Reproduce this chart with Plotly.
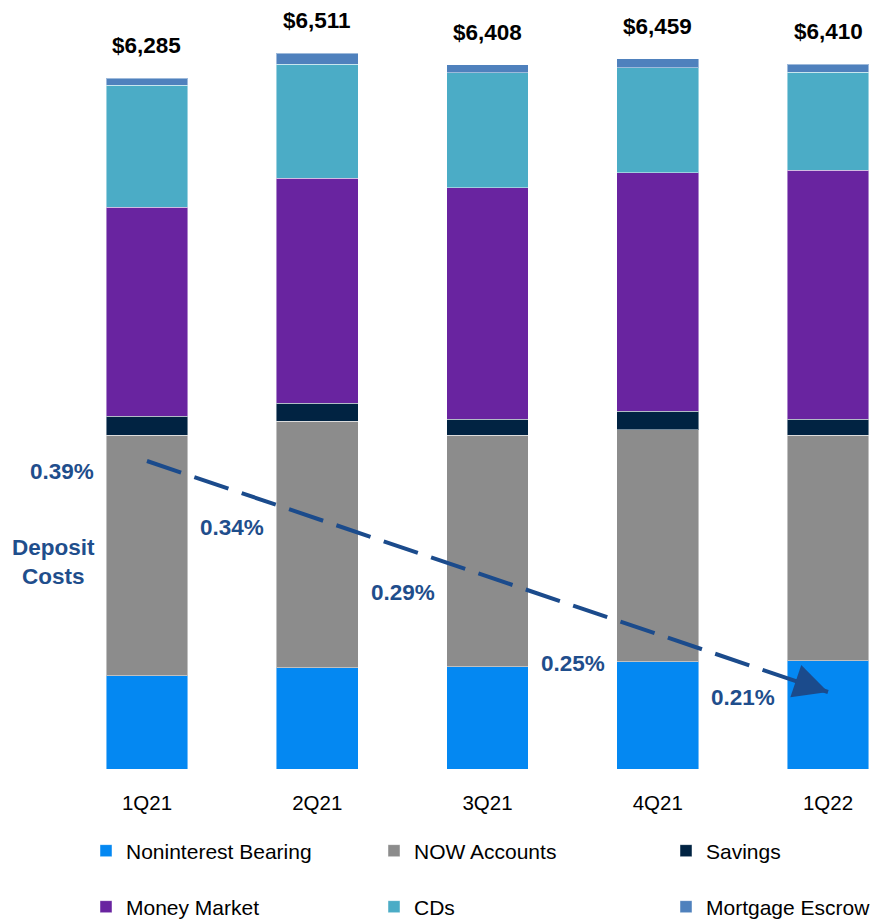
import plotly.graph_objects as go

quarters = ["1Q21", "2Q21", "3Q21", "4Q21", "1Q22"]

# deposits by type, $ millions
noninterest = [846, 919, 931, 976, 985]
now_accounts = [2191, 2244, 2104, 2112, 2052]
savings = [173, 164, 146, 164, 146]
money_market = [1901, 2047, 2104, 2173, 2265]
cds = [1110, 1037, 1050, 952, 889]
escrow = [64, 100, 73, 82, 73]
totals = [6285, 6511, 6408, 6459, 6410]

# cost of deposits, %
deposit_costs = [0.39, 0.34, 0.29, 0.25, 0.21]
cost_labels = ["0.39%", "0.34%", "0.29%", "0.25%", "0.21%"]

FONT = "Liberation Sans, Arial, sans-serif"
BLUE_TXT = "#1F4E8C"

# page body has an 8px margin, so the figure is drawn 8px smaller
W, H = 873, 915

series = [
    ("Noninterest Bearing", noninterest, "#0488F2"),
    ("NOW Accounts", now_accounts, "#8C8C8C"),
    ("Savings", savings, "#012342"),
    ("Money Market", money_market, "#6924A0"),
    ("CDs", cds, "#4BACC6"),
    ("Mortgage Escrow", escrow, "#4F81BD"),
]
# one legend per entry so the 3x2 grid sits where the original has it
legend_names = ["legend", "legend2", "legend3", "legend4", "legend5", "legend6"]
legend_cols = [78, 366, 658]
legend_rows = [0.0787, 0.0175]

fig = go.Figure()
for (name, vals, color), leg in zip(series, legend_names):
    fig.add_trace(go.Bar(
        x=quarters, y=vals, name=name, legend=leg,
        marker=dict(color=color, line=dict(color="rgba(255,255,255,0.45)", width=1)),
        width=0.48, hoverinfo="skip",
    ))

# dashed trend line for deposit costs, first to last quarter
fig.add_trace(go.Scatter(
    x=[quarters[0], quarters[-1]], y=[deposit_costs[0], deposit_costs[-1]],
    yaxis="y2", mode="lines", showlegend=False, hoverinfo="skip",
    line=dict(color="#1B4B8C", width=4, dash="36px,14px"),
))

# arrow head at the end of the line
step = (deposit_costs[0] - deposit_costs[-1]) / (len(quarters) - 1)
fig.add_annotation(
    x=4, y=deposit_costs[-1], xref="x", yref="y2",
    ax=3.8, ay=deposit_costs[-1] + step * 0.2, axref="x", ayref="y2",
    showarrow=True, arrowhead=2, arrowsize=1.7, arrowwidth=4,
    arrowcolor="#1B4B8C", text="",
)

# total labels above bars
for q, t in zip(quarters, totals):
    fig.add_annotation(
        x=q, y=t, xref="x", yref="y", text=f"${t:,}", showarrow=False,
        yanchor="bottom", yshift=18,
        font=dict(family=FONT, size=22.5, color="black", weight="bold"),
    )

# deposit cost labels
label_yshift = [-10, -2, -3, -23, -5]
for q, c, lab, ys in zip(quarters, deposit_costs, cost_labels, label_yshift):
    fig.add_annotation(
        x=q, y=c, xref="x", yref="y2", text=lab, showarrow=False,
        xshift=-85, yshift=ys,
        font=dict(family=FONT, size=22.5, color=BLUE_TXT, weight="bold"),
    )

fig.add_annotation(
    x=45 / W, y=0.272, xref="paper", yref="paper", xanchor="center", yanchor="middle",
    text="Deposit<br>Costs", showarrow=False, align="center",
    font=dict(family=FONT, size=22.5, color=BLUE_TXT, weight="bold"),
)

legends = {}
for i, leg in enumerate(legend_names):
    legends[leg] = dict(
        orientation="h", xref="container", yref="container",
        x=legend_cols[i % 3] / W, y=legend_rows[i // 3],
        xanchor="left", yanchor="middle",
        font=dict(family=FONT, size=21, color="black"),
        bgcolor="rgba(0,0,0,0)",
    )

fig.update_layout(
    width=W, height=H,
    margin=dict(l=0, r=0, t=0, b=154),
    barmode="stack",
    plot_bgcolor="white", paper_bgcolor="white",
    showlegend=True,
    xaxis=dict(
        type="category", range=[-0.8164, 4.3113],
        showgrid=False, showline=False, zeroline=False, ticks="",
        ticklabelstandoff=19,
        tickfont=dict(family=FONT, size=20.5, color="black"),
    ),
    yaxis=dict(range=[0, 6922], visible=False),
    yaxis2=dict(range=[0.15, 0.743], overlaying="y", visible=False),
    **legends,
)

fig.write_html("out.html")
